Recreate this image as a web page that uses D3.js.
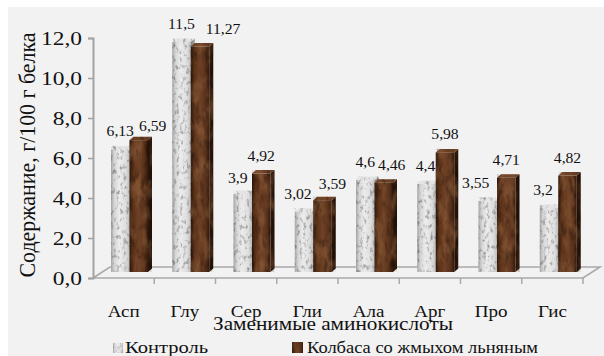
<!DOCTYPE html>
<html>
<head>
<meta charset="utf-8">
<script src="https://cdn.jsdelivr.net/npm/d3@7/dist/d3.min.js"></script>
<style>
  html, body { margin: 0; padding: 0; background: #ffffff; }
  svg { display: block; }
  svg text { font-family: "Liberation Serif", "Times New Roman", Times, serif !important; fill: #111; }
</style>
</head>
<body>
<svg id="chart" width="604" height="356" font-family="Liberation Serif, Times New Roman, serif"></svg>
<script>
// Amino acid content, g per 100 g protein
const categories = ["Асп", "Глу", "Сер", "Гли", "Ала", "Арг", "Про", "Гис"];
const seriesNames = ["Контроль", "Колбаса со жмыхом льняным"];
const controlValues = [6.13, 11.5, 3.9, 3.02, 4.6, 4.4, 3.55, 3.2];
const sausageValues = [6.59, 11.27, 4.92, 3.59, 4.46, 5.98, 4.71, 4.82];
const controlLabels = ["6,13", "11,5", "3,9", "3,02", "4,6", "4,4", "3,55", "3,2"];
const sausageLabels = ["6,59", "11,27", "4,92", "3,59", "4,46", "5,98", "4,71", "4,82"];
const yTicks = [0, 2, 4, 6, 8, 10, 12];
const yTickLabels = ["0,0", "2,0", "4,0", "6,0", "8,0", "10,0", "12,0"];
const yTitle = "Содержание, г/100 г белка";
const xTitle = "Заменимые аминокислоты";

// label nudges (px) keeping neighbouring value labels apart
const controlLabelShift = [[0, 0], [0, 0], [-5, 2], [-6, 0], [0, 0], [-1, 0], [-12, 0], [-6, 0]];
const sausageLabelShift = [[12, 4], [21, 0], [-2, 0], [8, 2], [6, 0], [-2, 0], [-2, 0], [-2, 0]];

const svg = d3.select("#chart");
const W = 604, H = 356;
const FONT = "Liberation Serif, Times New Roman, serif";

// plot geometry
const plot = { left: 93, right: 583, top: 38, bottom: 278 };
const floorDepth = { x: 17, y: -11 };   // back edge of the floor
const barDepth = { x: 8, y: -6 };       // bars stand mid-floor
const barSide = { x: 4, y: -3.5 };      // visible side / top thickness

const x = d3.scaleBand().domain(categories).range([plot.left, plot.right]);
const xSub = d3.scaleBand().domain(seriesNames).range([10, 47]);
const y = d3.scaleLinear().domain([0, 12]).range([plot.bottom, plot.top]);

// background panel
svg.append("rect").attr("x", 8).attr("y", 7).attr("width", W - 8).attr("height", H - 7)
  .attr("fill", "#f2f2f2");

const defs = svg.append("defs");

// speckled / mottled surface texture
function noiseFilter(id, freq, seed, alphaScale, alphaBias, color) {
  const f = defs.append("filter").attr("id", id)
    .attr("x", 0).attr("y", 0).attr("width", 1).attr("height", 1)
    .attr("color-interpolation-filters", "sRGB");
  f.append("feTurbulence").attr("type", "fractalNoise").attr("baseFrequency", freq)
    .attr("numOctaves", 3).attr("seed", seed).attr("result", "t");
  f.append("feColorMatrix").attr("in", "t").attr("type", "matrix")
    .attr("values", `0 0 0 0 0  0 0 0 0 0  0 0 0 0 0  0 0 0 ${alphaScale} ${alphaBias}`)
    .attr("result", "a");
  f.append("feComposite").attr("in", "a").attr("in2", "SourceAlpha").attr("operator", "in").attr("result", "m");
  f.append("feFlood").attr("flood-color", color);
  f.append("feComposite").attr("in2", "m").attr("operator", "in");
}
noiseFilter("grainLight", "0.3 0.2", 4, -2.6, 1.25, "#000");
noiseFilter("grainDark", "0.2 0.08", 9, -2.4, 1.15, "#000");
noiseFilter("blotchLight", "0.12 0.05", 21, 3.0, -1.3, "#9a6a44");

function hGrad(id, stops) {
  const g = defs.append("linearGradient").attr("id", id)
    .attr("x1", 0).attr("y1", 0).attr("x2", 1).attr("y2", 0);
  stops.forEach(s => g.append("stop").attr("offset", s[0]).attr("stop-color", s[1]));
}
hGrad("ctrlFront", [[0, "#a5a5a5"], [0.18, "#d6d6d6"], [0.45, "#ececec"], [0.8, "#dedede"], [1, "#bdbdbd"]]);
hGrad("ctrlSide", [[0, "#b0b0b0"], [1, "#949494"]]);
hGrad("brownFront", [[0, "#2e170a"], [0.2, "#5a3219"], [0.5, "#6f4125"], [0.8, "#58321b"], [1, "#35190b"]]);
hGrad("brownSide", [[0, "#2c1609"], [1, "#1f0f06"]]);

const styles = [
  { front: "url(#ctrlFront)", side: "url(#ctrlSide)", top: "#e4e4e4",
    grains: [["grainLight", 0.4]] },
  { front: "url(#brownFront)", side: "url(#brownSide)", top: "#6a3f24",
    grains: [["blotchLight", 0.45], ["grainDark", 0.4]] }
];

// floor
const floor = svg.append("g").attr("fill", "none").attr("stroke", "#a9a9a9").attr("stroke-width", 1.6);
const y0 = y(0);
floor.append("path").attr("d",
  `M${plot.left},${y0} L${plot.left + floorDepth.x},${y0 + floorDepth.y} L${plot.right + floorDepth.x},${y0 + floorDepth.y} L${plot.right},${y0} Z`);

// x ticks at category boundaries
const xBounds = categories.map(c => x(c)).concat([plot.right]);
svg.append("g").attr("stroke", "#a9a9a9").attr("stroke-width", 1.5)
  .selectAll("line").data(xBounds.slice(1)).join("line")
  .attr("x1", d => d).attr("x2", d => d).attr("y1", y0).attr("y2", y0 + 6);

// y axis
const yAxis = d3.axisLeft(y).tickValues(yTicks).tickSize(5).tickFormat((d, i) => yTickLabels[i]);
const yg = svg.append("g").attr("transform", `translate(${plot.left},0)`).call(yAxis);
yg.attr("font-family", FONT);
yg.select(".domain").attr("stroke", "#a3a3a3").attr("stroke-width", 2);
yg.selectAll(".tick line").attr("stroke", "#a3a3a3").attr("stroke-width", 1.5);
yg.selectAll(".tick text").remove();
yg.selectAll(".tick").append("text")
  .attr("text-anchor", "end")
  .attr("font-size", 18)
  .attr("font-family", FONT)
  .attr("transform", "translate(-11,6.3) scale(1.3,1)")
  .text((d, i) => yTickLabels[i]);

// bars
const bars = svg.append("g");
const barW = xSub.bandwidth();
const seriesValues = [controlValues, sausageValues];
function texture(g, st, rx, ry, rw, rh) {
  st.grains.forEach(([id, op]) => {
    g.append("rect").attr("x", rx).attr("y", ry).attr("width", rw).attr("height", rh)
      .attr("fill", "#000").attr("filter", `url(#${id})`).attr("opacity", op);
  });
}
categories.forEach((cat, ci) => {
  seriesNames.forEach((s, si) => {
    const v = seriesValues[si][ci];
    const st = styles[si];
    const bx = x(cat) + xSub(s) + barDepth.x;
    const top = y(v) + barDepth.y;
    const bot = y(0) + barDepth.y;
    const g = bars.append("g");
    const side = `M${bx + barW},${top} L${bx + barW + barSide.x},${top + barSide.y} L${bx + barW + barSide.x},${bot + barSide.y} L${bx + barW},${bot} Z`;
    const topFace = `M${bx},${top} L${bx + barSide.x},${top + barSide.y} L${bx + barW + barSide.x},${top + barSide.y} L${bx + barW},${top} Z`;
    g.append("path").attr("d", side).attr("fill", st.side);
    g.append("path").attr("d", topFace).attr("fill", st.top);
    g.append("rect").attr("x", bx).attr("y", top).attr("width", barW).attr("height", bot - top)
      .attr("fill", st.front);
    texture(g, st, bx, top + barSide.y, barW + barSide.x, bot - top - barSide.y);
  });
});

// value labels
const labelSets = [controlLabels, sausageLabels];
const shifts = [controlLabelShift, sausageLabelShift];
const labels = svg.append("g");
categories.forEach((cat, ci) => {
  seriesNames.forEach((s, si) => {
    const v = seriesValues[si][ci];
    const cx = x(cat) + xSub(s) + barDepth.x + barW / 2 + (si === 1 ? barSide.x / 2 : 0) + shifts[si][ci][0];
    const cy = y(v) + barDepth.y - 13 + shifts[si][ci][1];
    labels.append("text").attr("text-anchor", "middle").attr("font-size", 14.5)
      .attr("font-family", FONT)
      .attr("transform", `translate(${cx},${cy}) scale(1.08,1)`)
      .text(labelSets[si][ci]);
  });
});

// category labels
svg.append("g").selectAll("text").data(categories).join("text")
  .attr("text-anchor", "middle").attr("font-size", 17).attr("font-family", FONT)
  .attr("transform", d => `translate(${x(d) + x.bandwidth() / 2},317) scale(1.12,1)`)
  .text(d => d);

// axis titles
svg.append("text").attr("text-anchor", "middle").attr("font-size", 19).attr("font-family", FONT)
  .attr("x", 333).attr("y", 330).attr("textLength", 240).attr("lengthAdjust", "spacingAndGlyphs")
  .text(xTitle);
svg.append("text").attr("text-anchor", "middle").attr("font-size", 19).attr("font-family", FONT)
  .attr("transform", "translate(35,155) rotate(-90) scale(1,1.2)")
  .attr("textLength", 245).attr("lengthAdjust", "spacingAndGlyphs")
  .text(yTitle);

// legend
const legendItems = [
  { x: 113, y: 343, size: 10, textX: 125, len: 83 },
  { x: 292, y: 342, size: 11, textX: 307, len: 231 }
];
const legend = svg.append("g");
seriesNames.forEach((s, si) => {
  const it = legendItems[si];
  const g = legend.append("g");
  g.append("rect").attr("x", it.x).attr("y", it.y).attr("width", it.size).attr("height", it.size)
    .attr("fill", styles[si].front);
  texture(g, styles[si], it.x, it.y, it.size, it.size);
  legend.append("text").attr("x", it.textX).attr("y", 353).attr("font-size", 16).attr("font-family", FONT)
    .attr("textLength", it.len).attr("lengthAdjust", "spacingAndGlyphs")
    .text(s);
});
</script>
</body>
</html>
